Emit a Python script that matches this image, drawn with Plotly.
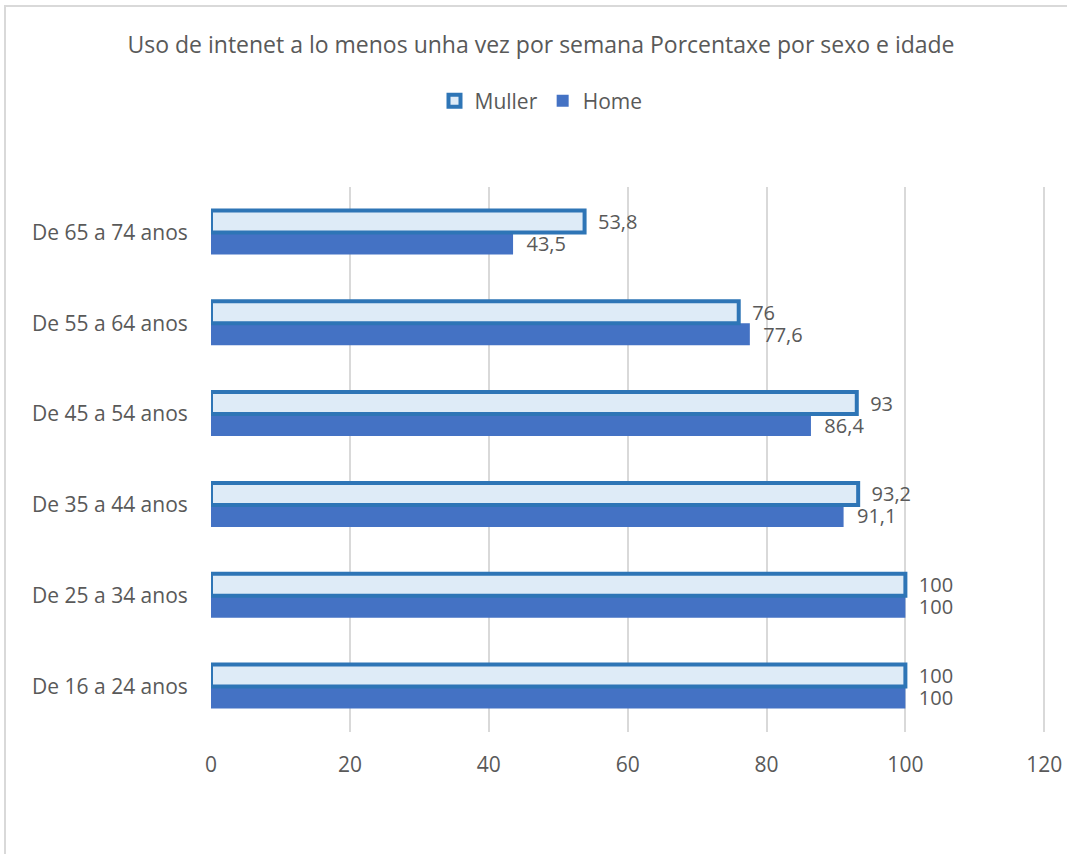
import plotly.graph_objects as go

categories = ["De 16 a 24 anos", "De 25 a 34 anos", "De 35 a 44 anos",
              "De 45 a 54 anos", "De 55 a 64 anos", "De 65 a 74 anos"]
muller = [100, 100, 93.2, 93, 76, 53.8]
home = [100, 100, 91.1, 86.4, 77.6, 43.5]
x_ticks = [0, 20, 40, 60, 80, 100, 120]

W, H = 1067, 854
L, R, T, B = 211, 21, 187, 122
font = "Open Sans, Lato, sans-serif"
grey = "#595959"
pad = "\u00a0\u00a0"


def fmt(v):
    return pad + f"{v:g}".replace(".", ",")


fig = go.Figure()
# Home first so that Muller sits above it within each group
fig.add_trace(go.Bar(
    y=categories, x=home, orientation="h", name="Home",
    marker=dict(color="#4472C4", line=dict(width=0)),
    text=[fmt(v) for v in home],
    textposition="outside", cliponaxis=False, constraintext="none",
    textfont=dict(size=20, color=grey, family=font),
))
fig.add_trace(go.Bar(
    y=categories, x=muller, orientation="h", name="Muller",
    marker=dict(color="#DEEBF7", line=dict(color="#2E75B6", width=4)),
    text=[fmt(v) for v in muller],
    textposition="outside", cliponaxis=False, constraintext="none",
    textfont=dict(size=20, color=grey, family=font),
))

pw = W - L - R
ph = H - T - B
fig.add_shape(type="rect", xref="paper", yref="paper",
              x0=(5 - L) / pw, x1=(W + 20 - L) / pw,
              y0=-(H + 20 - T - ph) / ph, y1=1 + (T - 6) / ph,
              line=dict(color="#D9D9D9", width=2), layer="below")

fig.update_layout(
    width=W, height=H,
    margin=dict(l=L, r=R, t=T, b=B, autoexpand=False),
    paper_bgcolor="white", plot_bgcolor="white",
    barmode="group", bargap=0.515, bargroupgap=0,
    title=dict(text="Uso de intenet a lo menos unha vez por semana Porcentaxe por sexo e idade",
               x=541 / W, xref="container", xanchor="center",
               y=1 - 45 / H, yref="container", yanchor="middle",
               font=dict(size=23, color=grey, family=font)),
    legend=dict(orientation="h", traceorder="reversed",
                x=541 / W, xref="container", xanchor="center",
                y=1 - 101 / H, yref="container", yanchor="middle",
                font=dict(size=21, color=grey, family=font),
                itemwidth=30),
    showlegend=True,
)
fig.update_xaxes(range=[0, 120.25], tickvals=x_ticks, showgrid=True, automargin=False,
                 gridcolor="#D9D9D9", gridwidth=1.5, zeroline=False, showline=False,
                 ticks="outside", ticklen=14, tickcolor="rgba(0,0,0,0)",
                 tickfont=dict(size=21, color=grey, family=font))
fig.update_yaxes(showgrid=False, showline=False, zeroline=False, automargin=False,
                 ticks="outside", ticklen=18, tickcolor="rgba(0,0,0,0)",
                 tickfont=dict(size=21, color=grey, family=font))

fig.write_html("out.html", config={"displayModeBar": False},
               post_script="document.body.style.margin='0';")
